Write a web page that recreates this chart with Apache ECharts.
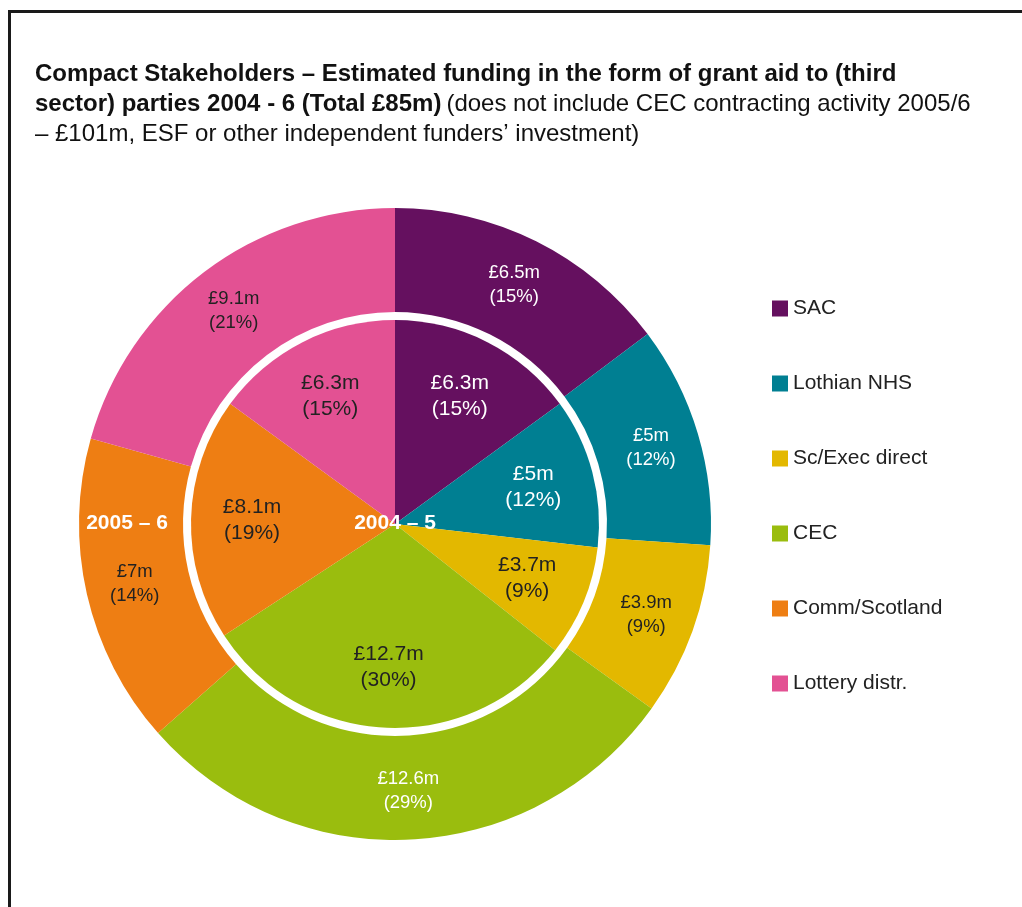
<!DOCTYPE html>
<html>
<head>
<meta charset="utf-8">
<script src="https://cdn.jsdelivr.net/npm/echarts@6/dist/echarts.min.js"></script>
<style>
  html, body { margin: 0; padding: 0; background: #fff; }
  #chart { width: 1022px; height: 907px; }
</style>
</head>
<body>
<div id="chart"></div>
<script>
// categories, in drawing order (clockwise from 12 o'clock)
const categories = ["SAC", "Lothian NHS", "Sc/Exec direct", "CEC", "Comm/Scotland", "Lottery distr."];
// outer ring: 2005 - 6 (£m)
const outerValues = [6.5, 5, 3.9, 12.6, 7, 9.1];
const outerPct = ["15%", "12%", "9%", "29%", "14%", "21%"];
// inner pie: 2004 - 5 (£m)
const innerValues = [6.3, 5, 3.7, 12.7, 8.1, 6.3];
const innerPct = ["15%", "12%", "9%", "30%", "19%", "15%"];

const colors = ["#65105f", "#007f92", "#e3b800", "#9abd0e", "#ee7e13", "#e35193"];
// label colours per slice
const outerLabelColors = ["#fff", "#fff", "#222", "#fff", "#222", "#222"];
const innerLabelColors = ["#fff", "#fff", "#222", "#222", "#222", "#222"];

const FONT = "'Liberation Sans', Arial, Helvetica, sans-serif";
const cx = 395, cy = 524;

const chart = echarts.init(document.getElementById("chart"));

function fmt(v) {
  return "£" + v + "m";
}

const outerData = categories.map((name, i) => ({
  name: name,
  value: outerValues[i],
  itemStyle: { color: colors[i] },
  label: {
    color: outerLabelColors[i],
    formatter: fmt(outerValues[i]) + "\n(" + outerPct[i] + ")",
  },
}));

const innerData = categories.map((name, i) => ({
  name: name,
  value: innerValues[i],
  itemStyle: { color: colors[i] },
}));

// same slices again, transparent, only to carry the labels further out
const innerLabelData = categories.map((name, i) => ({
  name: name,
  value: innerValues[i],
  itemStyle: { color: "rgba(0,0,0,0)" },
  label: {
    color: innerLabelColors[i],
    formatter: fmt(innerValues[i]) + "\n(" + innerPct[i] + ")",
  },
}));

const option = {
  animation: false,
  backgroundColor: "#fff",
  title: {
    left: 30,
    top: 54,
    text:
      "{b|Compact Stakeholders – Estimated funding in the form of grant aid to (third}\n" +
      "{b|sector) parties 2004 - 6 (Total £85m)} {n|(does not include CEC contracting activity 2005/6}\n" +
      "{n|– £101m, ESF or other independent funders’ investment)}",
    textStyle: {
      fontWeight: "normal",
      rich: {
        b: { fontFamily: FONT, fontSize: 24, fontWeight: "bold", color: "#111", lineHeight: 30 },
        n: { fontFamily: FONT, fontSize: 24, fontWeight: "normal", color: "#111", lineHeight: 30 },
      },
    },
  },
  legend: {
    orient: "vertical",
    left: 767,
    top: 293,
    itemWidth: 16,
    itemHeight: 16,
    itemGap: 54,
    icon: "rect",
    selectedMode: false,
    textStyle: { fontFamily: FONT, fontSize: 21, color: "#222" },
    data: categories,
  },
  series: [
    {
      name: "2005 – 6",
      type: "pie",
      center: [cx, cy],
      radius: [212, 316],
      startAngle: 90,
      clockwise: true,
      silent: true,
      avoidLabelOverlap: false,
      label: {
        show: true,
        position: "inside",
        fontFamily: FONT,
        fontSize: 18.5,
        lineHeight: 24,
        align: "center",
      },
      labelLine: { show: false },
      itemStyle: { borderWidth: 0 },
      data: outerData,
    },
    {
      name: "2004 – 5",
      type: "pie",
      center: [cx, cy],
      radius: [0, 204],
      startAngle: 90,
      clockwise: true,
      silent: true,
      label: { show: false },
      labelLine: { show: false },
      itemStyle: { borderWidth: 0 },
      data: innerData,
    },
    {
      name: "2004 – 5 labels",
      type: "pie",
      center: [cx, cy],
      radius: [76, 204],
      startAngle: 90,
      clockwise: true,
      silent: true,
      avoidLabelOverlap: false,
      label: {
        show: true,
        position: "inside",
        fontFamily: FONT,
        fontSize: 21,
        lineHeight: 26,
        align: "center",
      },
      labelLine: { show: false },
      itemStyle: { borderWidth: 0 },
      data: innerLabelData,
    },
  ],
  graphic: [
    // frame
    { type: "line", shape: { x1: 9.5, y1: 11, x2: 9.5, y2: 907 }, style: { stroke: "#1a1a1a", lineWidth: 3 } },
    { type: "line", shape: { x1: 8, y1: 11.5, x2: 1022, y2: 11.5 }, style: { stroke: "#1a1a1a", lineWidth: 3 } },
    // year labels
    {
      type: "text", x: cx, y: cy - 1,
      style: { text: "2004 – 5", fill: "#fff", font: "bold 21px " + FONT, align: "center", verticalAlign: "middle" },
      z: 10,
    },
    {
      type: "text", x: 127, y: cy - 1,
      style: { text: "2005 – 6", fill: "#fff", font: "bold 21px " + FONT, align: "center", verticalAlign: "middle" },
      z: 10,
    },
  ],
};

chart.setOption(option);
</script>
</body>
</html>
